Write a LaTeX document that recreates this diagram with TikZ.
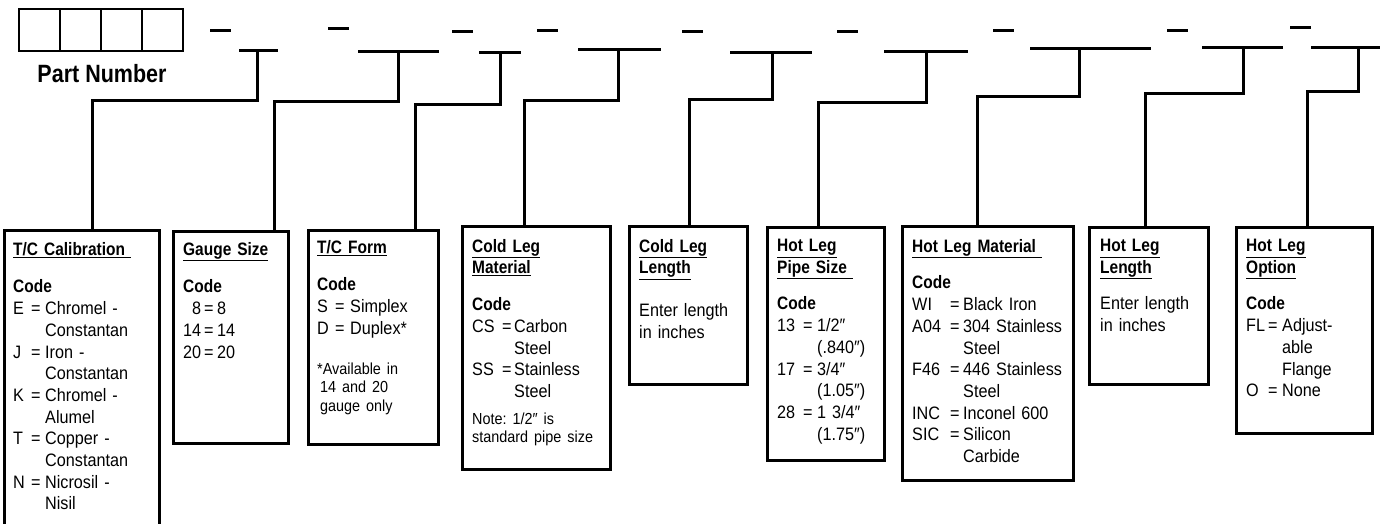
\documentclass[tikz,border=0pt]{standalone}
\usepackage{fontspec}
\setmainfont{Liberation Sans}[FakeStretch=0.9, BoldFeatures={FakeStretch=0.86}]
\usetikzlibrary{positioning}
\frenchspacing

\newlength\codew
\newlength\eqw
\newcommand\codeitem[2]{\makebox[\codew][l]{#1}\makebox[\eqw][l]{=}#2}
\newcommand\codecont[1]{\hspace*{\dimexpr\codew+\eqw\relax}#1}
\newcommand\boxtitle[1]{\textbf{\underline{#1}}}
\newcommand\smallfont{\fontsize{16}{18.5}\selectfont}

\tikzset{
  wire/.style={line width=3pt},
  cell/.style={draw, line width=2pt, minimum width=41pt, minimum height=42pt, inner sep=0pt, anchor=north west},
  codebox/.style={draw, line width=2.8pt, inner sep=0pt, anchor=north west},
  boxtext/.style n args={3}{inner sep=0pt, align=left, text width=#1,
    font=\fontsize{18}{21.7}\selectfont,
    execute at begin node={\setlength\parindent{0pt}\setlength\codew{#2}\setlength\eqw{#3}}},
}

\begin{document}
\begin{tikzpicture}[x=1pt, y=-1pt]
  \useasboundingbox (0,0) rectangle (1380,523);

  % part number cells
  \foreach \i in {1,...,4}
    \node[cell] (pn\i) at ({18+41*(\i-1)},8) {};
  \node[font=\bfseries\fontsize{25}{30}\selectfont, inner sep=0pt, below=12pt of pn2.south east] (pnlabel) {Part Number};

  % dashes and blanks
  \foreach \x/\y in {210/30, 328/28, 452/31, 537/30, 682/31, 837/31, 993/30, 1167/30, 1290/27}
    \draw[wire] (\x,\y) -- ++(21,0);
  \foreach \a/\b/\y in {239/278/50, 358/439/51, 479/521/52, 578/661/49, 730/812/52, 884/968/51, 1030/1151/48, 1202/1283/47, 1311/1380/47}
    \draw[wire] (\a,\y) -- (\b,\y);

  \coordinate (f1) at (257,50);   \coordinate (d1) at (92,100);
  \coordinate (f2) at (398,51);   \coordinate (d2) at (274,101);
  \coordinate (f3) at (500,52);   \coordinate (d3) at (415,104);
  \coordinate (f4) at (618,49);   \coordinate (d4) at (524,100);
  \coordinate (f5) at (772,52);   \coordinate (d5) at (689,99);
  \coordinate (f6) at (926,51);   \coordinate (d6) at (818,102);
  \coordinate (f7) at (1079,48);  \coordinate (d7) at (977,96);
  \coordinate (f8) at (1243,47);  \coordinate (d8) at (1145,93);
  \coordinate (f9) at (1358,47);  \coordinate (d9) at (1307,91);

  % code boxes
  \node[codebox, minimum width=155pt, minimum height=311pt] (cal) at (3,229) {};
  \node[codebox, minimum width=115pt, minimum height=212pt] (gauge) at (172,230) {};
  \node[codebox, minimum width=130pt, minimum height=214pt] (form) at (307,229) {};
  \node[codebox, minimum width=148pt, minimum height=243pt] (clm) at (461,225) {};
  \node[codebox, minimum width=118pt, minimum height=158pt] (cll) at (628,225) {};
  \node[codebox, minimum width=117pt, minimum height=233pt] (hps) at (766,226) {};
  \node[codebox, minimum width=171pt, minimum height=254pt] (hlm) at (901,225) {};
  \node[codebox, minimum width=119pt, minimum height=157pt] (hll) at (1088,226) {};
  \node[codebox, minimum width=136pt, minimum height=206pt] (hlo) at (1235,226) {};

  % connectors
  \draw[wire] (f1) |- (d1) -- (d1 |- cal.north);
  \draw[wire] (f2) |- (d2) -- (d2 |- gauge.north);
  \draw[wire] (f3) |- (d3) -- (d3 |- form.north);
  \draw[wire] (f4) |- (d4) -- (d4 |- clm.north);
  \draw[wire] (f5) |- (d5) -- (d5 |- cll.north);
  \draw[wire] (f6) |- (d6) -- (d6 |- hps.north);
  \draw[wire] (f7) |- (d7) -- (d7 |- hlm.north);
  \draw[wire] (f8) |- (d8) -- (d8 |- hll.north);
  \draw[wire] (f9) |- (d9) -- (d9 |- hlo.north);

  % box texts
  \node[boxtext={140pt}{18pt}{14pt}, below right=13pt and 10pt of cal.north west] (cal-t) {%
    \boxtitle{T/C Calibration\ }\\[16pt]
    \textbf{Code}\\
    \codeitem{E}{Chromel -}\\
    \codecont{Constantan}\\
    \codeitem{J}{Iron -}\\
    \codecont{Constantan}\\
    \codeitem{K}{Chromel -}\\
    \codecont{Alumel}\\
    \codeitem{T}{Copper -}\\
    \codecont{Constantan}\\
    \codeitem{N}{Nicrosil -}\\
    \codecont{Nisil}};
  \node[boxtext={100pt}{21pt}{13pt}, below right=12pt and 11pt of gauge.north west] (gauge-t) {%
    \boxtitle{Gauge Size}\\[16pt]
    \textbf{Code}\\
    \codeitem{\hphantom{1}8}{8}\\
    \codeitem{14}{14}\\
    \codeitem{20}{20}};
  \node[boxtext={115pt}{18pt}{15pt}, below right=11pt and 10pt of form.north west] (form-t) {%
    \boxtitle{T/C Form}\\[16pt]
    \textbf{Code}\\
    \codeitem{S}{Simplex}\\
    \codeitem{D}{Duplex*}\par
    \vspace{21.5pt}
    {\smallfont *Available in\\
    \hspace*{3pt}14 and 20\\
    \hspace*{3pt}gauge only\par}};
  \node[boxtext={132pt}{30pt}{12pt}, below right=14pt and 11pt of clm.north west] (clm-t) {%
    \boxtitle{Cold Leg}\\
    \boxtitle{Material}\\[15pt]
    \textbf{Code}\\
    \codeitem{CS}{Carbon}\\
    \codecont{Steel}\\
    \codeitem{SS}{Stainless}\\
    \codecont{Steel}\par
    \vspace{8.5pt}
    {\smallfont Note: 1/2″ is\\
    standard pipe size\par}};
  \node[boxtext={104pt}{0pt}{0pt}, below right=14pt and 11pt of cll.north west] (cll-t) {%
    \boxtitle{Cold Leg}\\
    \boxtitle{Length}\\[21pt]
    Enter length\\
    in inches};
  \node[boxtext={104pt}{26pt}{14pt}, below right=13pt and 11pt of hps.north west] (hps-t) {%
    \boxtitle{Hot Leg}\\
    \boxtitle{Pipe Size\ }\\[15pt]
    \textbf{Code}\\
    \codeitem{13}{1/2″}\\
    \codecont{(.840″)}\\
    \codeitem{17}{3/4″}\\
    \codecont{(1.05″)}\\
    \codeitem{28}{1 3/4″}\\
    \codecont{(1.75″)}};
  \node[boxtext={157pt}{38pt}{13pt}, below right=14pt and 11pt of hlm.north west] (hlm-t) {%
    \boxtitle{Hot Leg Material\ }\\[15pt]
    \textbf{Code}\\
    \codeitem{WI}{Black Iron}\\
    \codeitem{A04}{304 Stainless}\\
    \codecont{Steel}\\
    \codeitem{F46}{446 Stainless}\\
    \codecont{Steel}\\
    \codeitem{INC}{Inconel 600}\\
    \codeitem{SIC}{Silicon}\\
    \codecont{Carbide}};
  \node[boxtext={105pt}{0pt}{0pt}, below right=13pt and 12pt of hll.north west] (hll-t) {%
    \boxtitle{Hot Leg}\\
    \boxtitle{Length}\\[15pt]
    Enter length\\
    in inches};
  \node[boxtext={122pt}{22pt}{14pt}, below right=13pt and 11pt of hlo.north west] (hlo-t) {%
    \boxtitle{Hot Leg}\\
    \boxtitle{Option}\\[15pt]
    \textbf{Code}\\
    \codeitem{FL}{Adjust-}\\
    \codecont{able}\\
    \codecont{Flange}\\
    \codeitem{O}{None}};
\end{tikzpicture}
\end{document}
